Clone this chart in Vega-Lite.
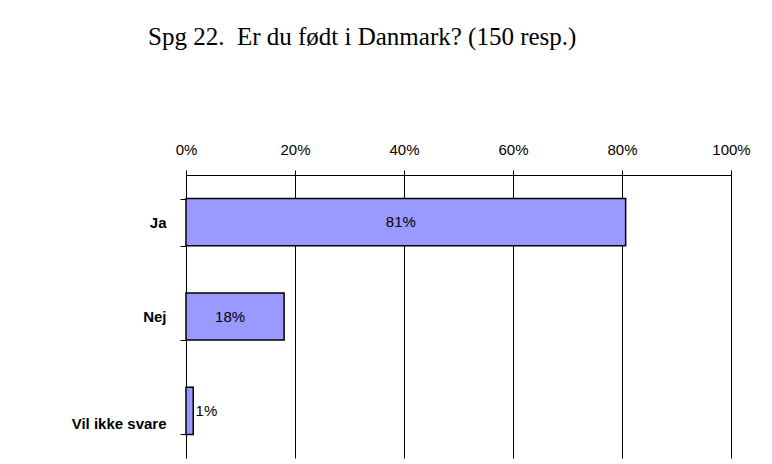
{
  "$schema": "https://vega.github.io/schema/vega-lite/v6.json",
  "autosize": "none",
  "width": 545,
  "height": 283,
  "padding": {"left": 186, "top": 175, "right": 41, "bottom": 6},
  "background": "white",
  "config": {"view": {"stroke": null}},
  "title": {
    "text": "Spg 22.\u00a0 Er du født i Danmark? (150 resp.)",
    "anchor": "start",
    "frame": "group",
    "font": "Liberation Serif",
    "fontSize": 25,
    "fontWeight": "normal",
    "color": "black",
    "baseline": "alphabetic",
    "dx": -38,
    "offset": 72
  },
  "data": {
    "values": [
      {"svar": "Ja", "andel": 0.8067, "label": "81%"},
      {"svar": "Nej", "andel": 0.18, "label": "18%"},
      {"svar": "Vil ikke svare", "andel": 0.0133, "label": "1%"}
    ]
  },
  "layer": [
    {
      "mark": {"type": "bar", "color": "#9999FF", "stroke": "black", "strokeWidth": 1.5},
      "encoding": {
        "y": {
          "field": "svar",
          "type": "nominal",
          "sort": null,
          "scale": {"paddingInner": 0.5, "paddingOuter": 0.25},
          "axis": {
            "title": null,
            "orient": "left",
            "tickBand": "extent",
            "domainColor": "black",
            "tickColor": "black",
            "tickSize": 6,
            "labelFont": "Liberation Sans",
            "labelFontSize": 15,
            "labelFontWeight": "bold",
            "labelColor": "black",
            "labelPadding": 14,
            "labelOffset": {"condition": {"test": "datum.value === 'Vil ikke svare'", "value": 13}, "value": 0}
          }
        },
        "x": {
          "field": "andel",
          "type": "quantitative",
          "scale": {"domain": [0, 1], "nice": false},
          "axis": {
            "title": null,
            "orient": "top",
            "values": [0, 0.2, 0.4, 0.6, 0.8, 1],
            "format": ".0%",
            "grid": true,
            "gridColor": "black",
            "gridOpacity": 1,
            "gridWidth": 1,
            "domainColor": "black",
            "tickColor": "black",
            "tickSize": 5,
            "labelFlush": false,
            "labelFont": "Liberation Sans",
            "labelFontSize": 15,
            "labelColor": "black",
            "labelPadding": 13
          }
        }
      }
    },
    {
      "mark": {
        "type": "text",
        "font": "Liberation Sans",
        "fontSize": 15,
        "color": "black",
        "baseline": "middle",
        "align": {"expr": "datum.andel < 0.05 ? 'left' : 'center'"},
        "dx": {"expr": "datum.andel < 0.05 ? 6 : -5"}
      },
      "encoding": {
        "y": {"field": "svar", "type": "nominal", "sort": null},
        "x": {
          "field": "andel",
          "type": "quantitative",
          "scale": {"domain": [0, 2], "nice": false},
          "axis": null
        },
        "text": {"field": "label"}
      }
    }
  ],
  "resolve": {"scale": {"x": "independent"}}
}
